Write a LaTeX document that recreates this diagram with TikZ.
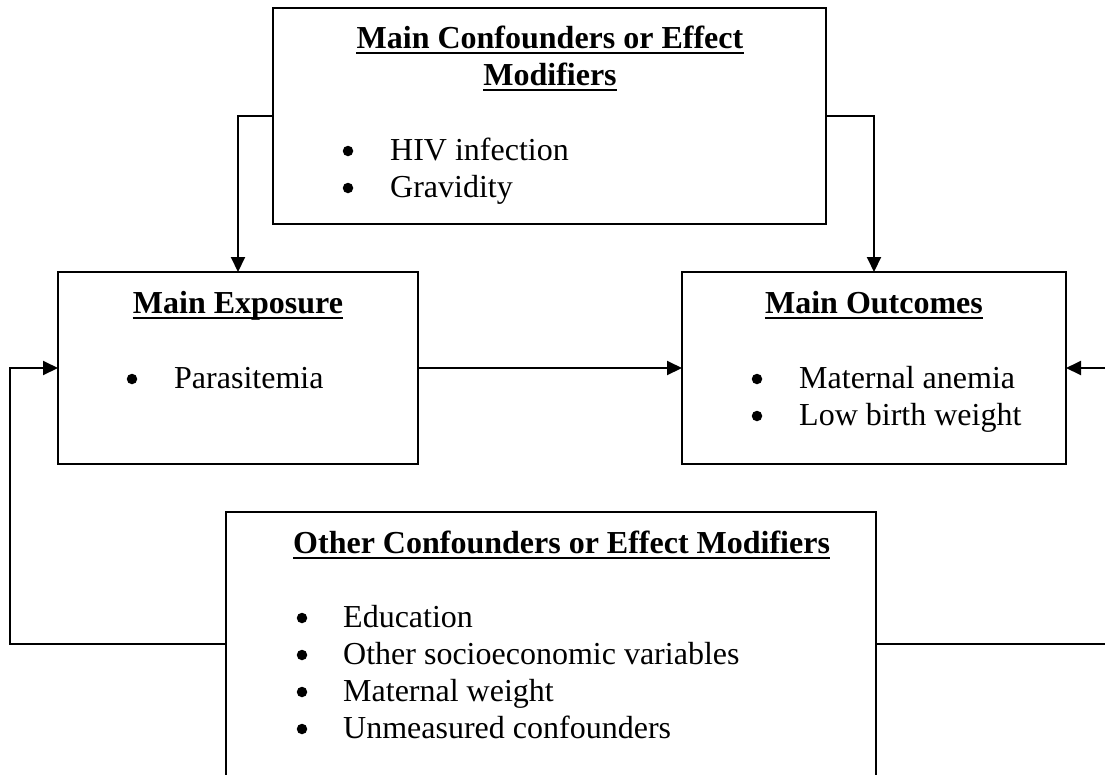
\documentclass[tikz,border=0pt]{standalone}
\usepackage{fontspec}
\setmainfont{Liberation Serif}
\usetikzlibrary{arrows.meta}
\begin{document}
\begin{tikzpicture}[x=1pt,y=-1pt,
  box/.style={draw, line width=2pt, inner sep=0pt, outer sep=0pt},
  arr/.style={line width=2pt, -{Triangle[length=15pt,width=14pt]}},
  ttl/.style={inner sep=0pt, anchor=base, font=\bfseries},
  itm/.style={inner sep=0pt, anchor=base west},
  dot/.style={circle, fill, inner sep=0pt, minimum size=10.5pt},
  ulin/.style={line width=2.6pt}
]
\fontsize{32}{36.8}\selectfont
\clip (0,0) rectangle (1105,774);
\fill[white] (0,0) rectangle (1105,774);

% boxes
\node[box, minimum width=553pt, minimum height=216pt] (top) at (549.5,116) {};
\node[box, minimum width=360pt, minimum height=192pt] (expo) at (238,368) {};
\node[box, minimum width=384pt, minimum height=192pt] (outc) at (874,368) {};
\node[box, minimum width=650pt, minimum height=264pt] (other) at (551,644) {};

% top box text
\node[ttl] (t1a) at (550,48) {Main Confounders or Effect};
\node[ttl] (t1b) at (550,85) {Modifiers};
\draw[ulin] ([yshift=-5pt]t1a.base west) -- ([yshift=-5pt]t1a.base east);
\draw[ulin] ([yshift=-5pt]t1b.base west) -- ([yshift=-5pt]t1b.base east);
\node[dot] (b1) at (348,151) {};
\node[itm] (i1) at (390,160) {HIV infection};
\node[dot] (b2) at (348,188) {};
\node[itm] (i2) at (390,197) {Gravidity};

% exposure text
\node[ttl] (t2) at (238,313) {Main Exposure};
\draw[ulin] ([yshift=-5pt]t2.base west) -- ([yshift=-5pt]t2.base east);
\node[dot] (b3) at (132,379) {};
\node[itm] (i3) at (174,388) {Parasitemia};

% outcomes text
\node[ttl] (t3) at (874,313) {Main Outcomes};
\draw[ulin] ([yshift=-5pt]t3.base west) -- ([yshift=-5pt]t3.base east);
\node[dot] (b4) at (757,379) {};
\node[itm] (i4) at (799,388) {Maternal anemia};
\node[dot] (b5) at (757,416) {};
\node[itm] (i5) at (799,425) {Low birth weight};

% other text
\node[ttl, anchor=base west] (t4) at (293,553) {Other Confounders or Effect Modifiers};
\draw[ulin] ([yshift=-5pt]t4.base west) -- ([yshift=-5pt]t4.base east);
\node[dot] (b6) at (302,618) {};
\node[itm] (i6) at (343,627) {Education};
\node[dot] (b7) at (302,655) {};
\node[itm] (i7) at (343,664) {Other socioeconomic variables};
\node[dot] (b8) at (302,692) {};
\node[itm] (i8) at (343,701) {Maternal weight};
\node[dot] (b9) at (302,729) {};
\node[itm] (i9) at (343,738) {Unmeasured confounders};

% connectors
\coordinate (lc) at (10,644);
\coordinate (rc) at (1115,644);
\draw[arr] (top.west) -| (expo.north);
\draw[arr] (top.east) -| (outc.north);
\draw[arr] (expo.east) -- (outc.west);
\draw[arr] (other.west) -- (lc) |- (expo.west);
\draw[arr] (other.east) -- (rc) |- (outc.east);
\end{tikzpicture}
\end{document}
